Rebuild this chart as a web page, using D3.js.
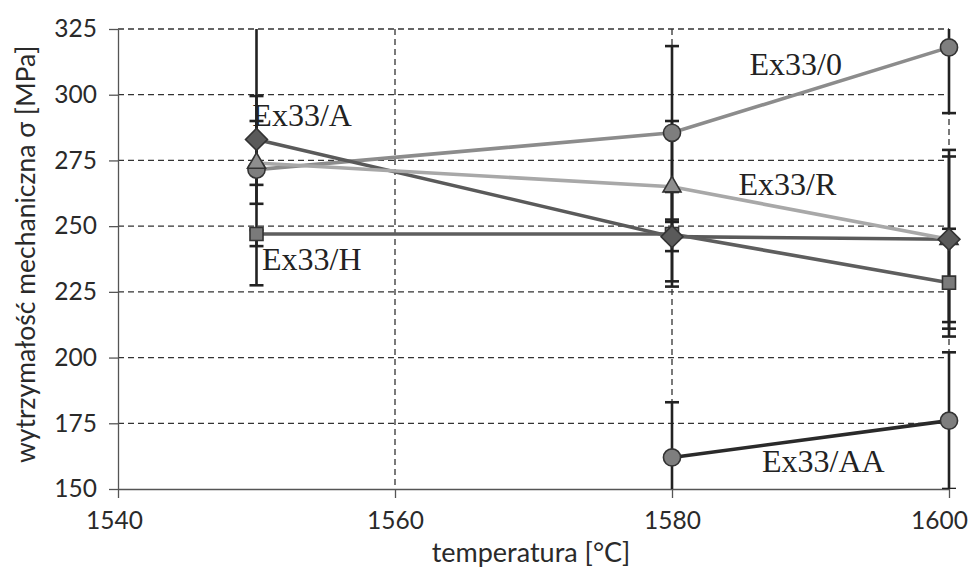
<!DOCTYPE html>
<html>
<head>
<meta charset="utf-8">
<script src="https://cdn.jsdelivr.net/npm/d3@7"></script>
<style>
  body { margin: 0; background: #fff; }
  text { font-family: Lato, "Open Sans", sans-serif; }
</style>
</head>
<body>
<script>
const width = 972;
const height = 576;
const margin = { left: 118, top: 29, right: 23, bottom: 87 };
const innerW = width - margin.left - margin.right;
const innerH = height - margin.top - margin.bottom;

// data
const temps = [1550, 1580, 1600];
const seriesNames = ['Ex33/0', 'Ex33/A', 'Ex33/R', 'Ex33/H', 'Ex33/AA'];
const ex0 = [271.5, 285.5, 318];
const exA = [283, 246, 245];
const exR = [274, 265, 245];
const exH = [247, 247, 228.5];
const exAA = [null, 162, 176];
// error bars (plus / minus)
const ex0Plus = [60, 33, 25];
const ex0Minus = [44, 33, 25];
const exAPlus = [16.5, 17, 34];
const exAMinus = [17.3, 17, 34];
const exRPlus = [16, 25, 31.5];
const exRMinus = [15.5, 24.5, 31.5];
const exHPlus = [1.5, 4.6, 20.5];
const exHMinus = [4.6, 20, 20.5];
const exAAPlus = [null, 21, 26];
const exAAMinus = [null, 21, 26];
const xTicks = [1540, 1560, 1580, 1600];
const yTicks = [150, 175, 200, 225, 250, 275, 300, 325];
// where the series labels sit, in data units
const labelAt = [[1585.6, 307.6], [1549.7, 288.2], [1584.8, 261.9], [1550.4, 233.3], [1586.5, 156.5]];

const seriesVals = [ex0, exA, exR, exH, exAA];
const seriesPlus = [ex0Plus, exAPlus, exRPlus, exHPlus, exAAPlus];
const seriesMinus = [ex0Minus, exAMinus, exRMinus, exHMinus, exAAMinus];
const lineColor = ['#8c8c8c', '#5a5a5a', '#a8a8a8', '#5e5e5e', '#2a2a2a'];
const markerFill = ['#7e7e7e', '#5a5a5a', '#8e8e8e', '#7a7a7a', '#7e7e7e'];
const markerType = [d3.symbolCircle, d3.symbolSquare, d3.symbolTriangle, d3.symbolSquare, d3.symbolCircle];
const markerSize = [230, 240, 140, 170, 230];
const markerRot = [0, 45, 0, 0, 0];
const markerOrder = [3, 0, 2, 1, 4];

const series = seriesNames.map((name, i) => ({
  name,
  points: temps.map((t, j) => ({ t, v: seriesVals[i][j], plus: seriesPlus[i][j], minus: seriesMinus[i][j] }))
    .filter(p => p.v != null),
}));

const svg = d3.select('body').append('svg')
  .attr('width', width)
  .attr('height', height);

const g = svg.append('g')
  .attr('transform', `translate(${margin.left}, ${margin.top})`);

const xScale = d3.scaleLinear().domain([1540, 1600]).range([0, innerW]);
const yScale = d3.scaleLinear().domain([150, 325]).range([innerH, 0]);

g.append('clipPath').attr('id', 'plot')
  .append('rect').attr('x', -10).attr('width', innerW + 20).attr('height', innerH);

// dashed grid
g.append('g').selectAll('line')
  .data(yTicks.slice(1))
  .enter().append('line')
  .attr('x1', 0).attr('x2', innerW)
  .attr('y1', d => yScale(d)).attr('y2', d => yScale(d))
  .attr('stroke', '#333').attr('stroke-width', 1.3)
  .attr('stroke-dasharray', '6,4');

g.append('g').selectAll('line')
  .data(xTicks.slice(1))
  .enter().append('line')
  .attr('x1', d => xScale(d)).attr('x2', d => xScale(d))
  .attr('y1', 0).attr('y2', innerH)
  .attr('stroke', '#333').attr('stroke-width', 1.3)
  .attr('stroke-dasharray', '6,4');

// axes
const xAxis = d3.axisBottom(xScale).tickValues(xTicks).tickFormat(d3.format('d'))
  .tickSizeInner(9).tickSizeOuter(0).tickPadding(14);
const yAxis = d3.axisLeft(yScale).tickValues(yTicks)
  .tickSizeInner(9).tickSizeOuter(0).tickPadding(12);

const gx = g.append('g')
  .attr('transform', `translate(0, ${innerH})`)
  .call(xAxis);
const gy = g.append('g').call(yAxis);

[gx, gy].forEach((a) => {
  a.select('.domain').attr('stroke', '#555').attr('stroke-width', 1.3);
  a.selectAll('.tick line').attr('stroke', '#555').attr('stroke-width', 1.3);
  a.selectAll('.tick text')
    .attr('fill', '#2a2a2a')
    .style('font-size', '24.5px');
});
gx.selectAll('.tick text').filter(d => d === 1600).attr('dx', -10);
gx.selectAll('.tick text').filter(d => d === 1540).attr('dx', -4);

// error bars
const bars = g.append('g').attr('clip-path', 'url(#plot)');
series.forEach((s) => {
  s.points.forEach((p) => {
    const x = xScale(p.t);
    const yTop = yScale(p.v + p.plus);
    const yBot = yScale(p.v - p.minus);
    bars.append('line')
      .attr('x1', x).attr('x2', x).attr('y1', yTop).attr('y2', yBot)
      .attr('stroke', '#222').attr('stroke-width', 2.6);
    [yTop, yBot].forEach((yy) => {
      bars.append('line')
        .attr('x1', x - 7).attr('x2', x + 7).attr('y1', yy).attr('y2', yy)
        .attr('stroke', '#222').attr('stroke-width', 2.6);
    });
  });
});

// lines
const line = d3.line().x(d => xScale(d.t)).y(d => yScale(d.v));
series.forEach((s, i) => {
  g.append('path')
    .datum(s.points)
    .attr('d', line)
    .attr('fill', 'none')
    .attr('stroke', lineColor[i])
    .attr('stroke-width', 3.6);
});

// markers
markerOrder.forEach((i) => {
  g.append('g').selectAll('path')
    .data(series[i].points)
    .enter().append('path')
    .attr('d', d3.symbol().type(markerType[i]).size(markerSize[i]))
    .attr('transform', d => `translate(${xScale(d.t)}, ${yScale(d.v)}) rotate(${markerRot[i]})`)
    .attr('fill', markerFill[i])
    .attr('stroke', '#333')
    .attr('stroke-width', 1.6);
});

// series labels
g.append('g').selectAll('text')
  .data(seriesNames)
  .enter().append('text')
  .attr('x', (d, i) => xScale(labelAt[i][0]))
  .attr('y', (d, i) => yScale(labelAt[i][1]))
  .style('font-family', '"Liberation Serif", "DejaVu Serif", serif')
  .style('font-size', '32px')
  .attr('fill', '#222')
  .text(d => d);

// axis titles
svg.append('text')
  .attr('x', margin.left + innerW * 0.497)
  .attr('y', 562)
  .attr('text-anchor', 'middle')
  .style('font-size', '27px')
  .attr('fill', '#2a2a2a')
  .text('temperatura [°C]');

svg.append('text')
  .attr('transform', `translate(35, ${margin.top + innerH * 0.49}) rotate(-90)`)
  .attr('text-anchor', 'middle')
  .style('font-size', '26.5px')
  .attr('fill', '#2a2a2a')
  .text('wytrzymałość mechaniczna σ [MPa]');
</script>
</body>
</html>
